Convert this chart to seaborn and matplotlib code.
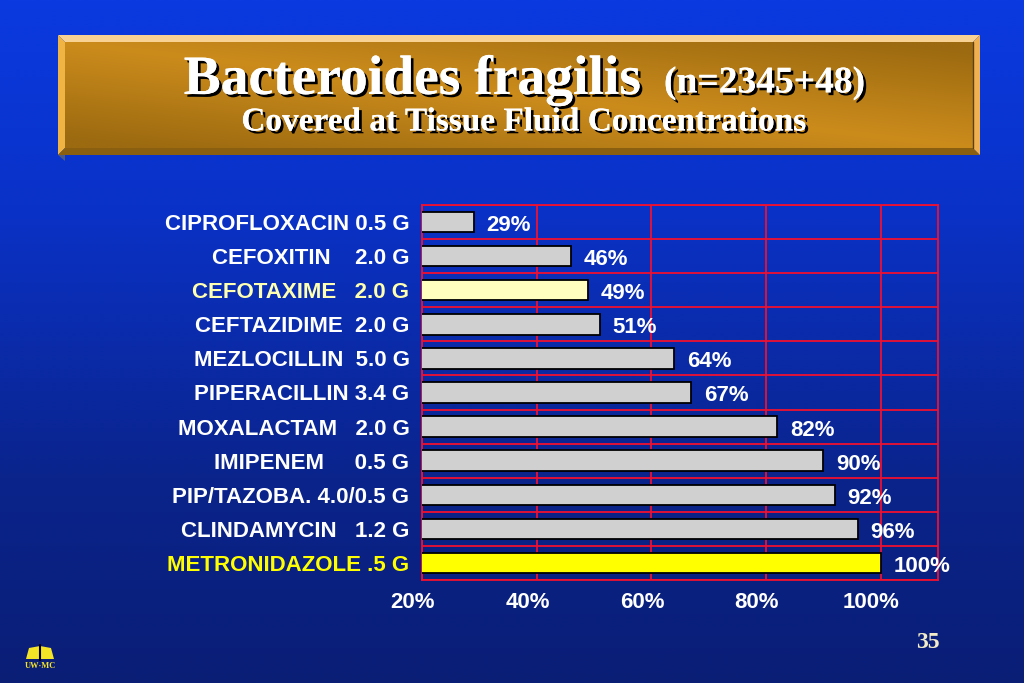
import numpy as np
import matplotlib
matplotlib.use("Agg")
import matplotlib.pyplot as plt
import matplotlib.patheffects as pe
from matplotlib.patches import Polygon
import pandas as pd
import seaborn as sns

# ---------------- data ----------------
drugs = [
    "CIPROFLOXACIN 0.5 G",
    "CEFOXITIN    2.0 G",
    "CEFOTAXIME   2.0 G",
    "CEFTAZIDIME  2.0 G",
    "MEZLOCILLIN  5.0 G",
    "PIPERACILLIN 3.4 G",
    "MOXALACTAM   2.0 G",
    "IMIPENEM     0.5 G",
    "PIP/TAZOBA. 4.0/0.5 G",
    "CLINDAMYCIN   1.2 G",
    "METRONIDAZOLE .5 G",
]
coverage = [29, 46, 49, 51, 64, 67, 82, 90, 92, 96, 100]
value_labels = ["29%", "46%", "49%", "51%", "64%", "67%", "82%", "90%", "92%", "96%", "100%"]
bar_colors = ["#d0d0d0", "#d0d0d0", "#ffffc0", "#d0d0d0", "#d0d0d0", "#d0d0d0",
              "#d0d0d0", "#d0d0d0", "#d0d0d0", "#d0d0d0", "#ffff00"]
label_colors = ["white", "white", "#ffffb0", "white", "white", "white",
                "white", "white", "white", "white", "#ffff00"]
x_ticks = [20, 40, 60, 80, 100]
x_tick_labels = ["20%", "40%", "60%", "80%", "100%"]
title = "Bacteroides fragilis"
title_n = "(n=2345+48)"
subtitle = "Covered at Tissue Fluid Concentrations"
slide_number = "35"
logo_text = "UW\u00b7MC"

# ---------------- style ----------------
sns.set_theme(style="white")
plt.rcParams["font.family"] = ["Liberation Sans", "DejaVu Sans"]
RED = "#f01030"
FS = 16

fig = plt.figure(figsize=(10.24, 6.83), dpi=100)

# background gradient (pixel coordinates)
bg = fig.add_axes([0, 0, 1, 1], zorder=0)
bg.set_xlim(0, 1024)
bg.set_ylim(683, 0)
bg.axis("off")
yy = np.linspace(0, 1, 512)
stops = [0.0, 0.3, 0.7, 1.0]
cols = np.array([[10, 58, 224], [10, 50, 200], [10, 36, 140], [10, 30, 118]]) / 255
grad = np.stack([np.interp(yy, stops, cols[:, k]) for k in range(3)], axis=-1)[:, None, :]
bg.imshow(grad, extent=[0, 1024, 683, 0], aspect="auto", interpolation="bilinear", zorder=0)

# title box with bevel
x0, x1, y0, y1, b = 58, 980, 35, 155, 7
nx, ny = 400, 80
X, Y = np.meshgrid(np.linspace(0, 1, nx), np.linspace(0, 1, ny))
bright = 1 - np.clip(np.abs(X - Y) * 1.1, 0, 1)
c_bright = np.array([0xcc, 0x8c, 0x1c]) / 255
c_dark = np.array([0x9c, 0x6a, 0x10]) / 255
face = c_dark * (1 - bright[..., None]) + c_bright * bright[..., None]
bg.imshow(np.clip(face, 0, 1), extent=[x0 + b, x1 - b, y1 - b, y0 + b],
          aspect="auto", interpolation="bilinear", zorder=1)
# small drop shadow at the lower-left corner of the box
bg.add_patch(Polygon([(x0, y1), (x0 + b, y1 + 6), (x0 + b, y1)], closed=True,
                     facecolor="#4a5a88", edgecolor="none", zorder=1))
bevels = [
    ([(x0, y0), (x1, y0), (x1 - b, y0 + b), (x0 + b, y0 + b)], "#f8d292"),
    ([(x0, y0), (x0 + b, y0 + b), (x0 + b, y1 - b), (x0, y1)], "#f0b444"),
    ([(x0, y1), (x1, y1), (x1 - b, y1 - b), (x0 + b, y1 - b)], "#8a6010"),
    ([(x1, y0), (x1, y1), (x1 - b, y1 - b), (x1 - b, y0 + b)], "#eeb050"),
]
for pts, col in bevels:
    bg.add_patch(Polygon(pts, closed=True, facecolor=col, edgecolor="none", zorder=2))
bg.plot([x1 - b, x1 - b], [y0 + b, y1 - b], color="#5a4010", lw=1, zorder=2)

shadow = [pe.withSimplePatchShadow(offset=(2, -2), shadow_rgbFace="black", alpha=1.0),
          pe.Normal()]
serif = ["Liberation Serif", "DejaVu Serif"]
bg.text(412, 80, title, ha="center", va="center", fontsize=40, fontweight="bold",
        family=serif, color="white", path_effects=shadow, zorder=3)
bg.text(664, 83, title_n, ha="left", va="center", fontsize=27, fontweight="bold",
        family=serif, color="white", path_effects=shadow, zorder=3)
bg.text(524, 122, subtitle, ha="center", va="center", fontsize=24, fontweight="bold",
        family=serif, color="white", path_effects=shadow, zorder=3)

# footer
bg.text(928, 643, slide_number, ha="center", va="center", fontsize=17, fontweight="bold",
        family=serif, color="#f2ecc8", zorder=3)
bg.add_patch(Polygon([(26, 659), (29, 648), (40, 646), (51, 648), (54, 659)], closed=True,
                     facecolor="#f4e428", edgecolor="none", zorder=3))
bg.plot([40, 40], [645, 660], color="black", lw=1.5, zorder=4)
bg.text(40, 666, logo_text, ha="center", va="center", fontsize=6, fontweight="bold",
        family=serif, color="#f4e428", zorder=3)

# ---------------- bar chart ----------------
ax = fig.add_axes([422 / 1024, 1 - 580 / 683, (938 - 422) / 1024, (580 - 205) / 683], zorder=2)
ax.set_facecolor("none")
df = pd.DataFrame({"drug": drugs, "coverage": coverage})
sns.barplot(data=df, x="coverage", y="drug", hue="drug", palette=bar_colors, legend=False,
            orient="h", width=0.6, saturation=1, edgecolor="black", linewidth=1.3,
            ax=ax, zorder=3)

ax.set_xlim(20, 110)
ax.set_ylim(len(drugs) - 0.5, -0.5)
ax.set_xticks(x_ticks)
ax.set_xticklabels([])
ax.set_yticks(range(len(drugs)))
ax.set_yticklabels(drugs)
ax.set_yticks(np.arange(-0.5, len(drugs), 1), minor=True)
ax.set_xlabel("")
ax.set_ylabel("")
ax.grid(False)
ax.xaxis.grid(True, which="major", color=RED, lw=1.3, zorder=0)
ax.yaxis.grid(True, which="minor", color=RED, lw=1.3, zorder=0)
ax.set_axisbelow(True)
for s in ax.spines.values():
    s.set_color(RED)
    s.set_linewidth(1.3)
ax.tick_params(axis="both", which="both", length=0)
ax.tick_params(axis="y", pad=9)
for lab, col in zip(ax.get_yticklabels(), label_colors):
    lab.set_color(col)
    lab.set_fontsize(FS)
    lab.set_fontweight("bold")

for i, (v, t) in enumerate(zip(coverage, value_labels)):
    ax.text(v + 2.2, i + 0.1, t, color="white", fontsize=FS, fontweight="bold",
            ha="left", va="center", clip_on=False, zorder=4)

for xt, lab in zip(x_ticks, x_tick_labels):
    ax.text(xt - 1.6, len(drugs) - 0.5 + 0.66, lab, color="white", fontsize=FS,
            fontweight="bold", ha="center", va="center", clip_on=False)

fig.savefig("out.png", dpi=100)
